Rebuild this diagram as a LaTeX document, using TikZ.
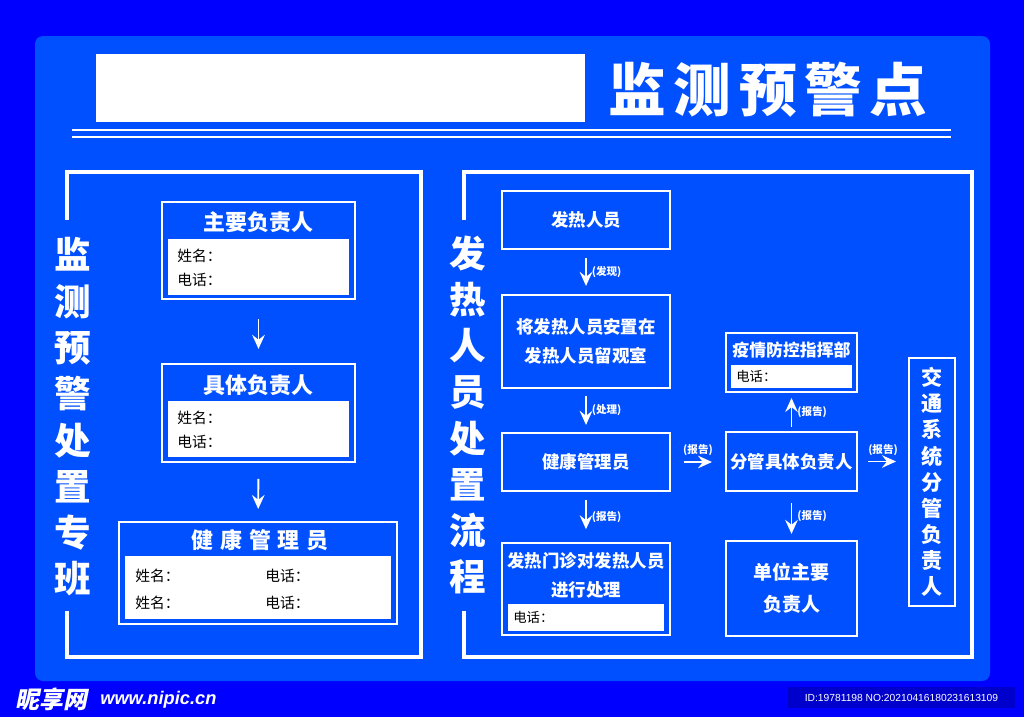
\documentclass[tikz,border=0pt]{standalone}
\usepackage{fontspec}
\setmainfont{Noto Sans CJK SC}
\newfontfamily\wmfont{Liberation Sans}
\usetikzlibrary{arrows.meta}
\definecolor{deepblue}{RGB}{0,0,255}
\definecolor{panelblue}{RGB}{0,80,255}
\definecolor{idblue}{RGB}{0,0,205}

\begin{document}
\begin{tikzpicture}[x=0.025cm, y=-0.025cm,
  >={Stealth[length=10pt, width=9pt, inset=3.5pt]},
  frame/.style={draw=white, line width=2.5pt},
  box/.style={draw=white, line width=1.5pt, inner sep=0pt},
  info/.style={fill=white, inner sep=0pt},
  arr/.style={->, white, line width=1.4pt},
  head/.style={text=white, font=\bfseries\fontsize{15.6pt}{18pt}\selectfont},
  flow/.style={text=white, align=center, font=\bfseries\fontsize{12.4pt}{20.5pt}\selectfont},
  field/.style={text=black, anchor=west, inner sep=0pt, font=\fontsize{10.5pt}{12pt}\selectfont},
  tag/.style={text=white, inner sep=1.5pt, font=\bfseries\fontsize{7.5pt}{8pt}\selectfont},
  vtitle/.style={text=white, align=center, font=\bfseries\fontsize{26pt}{32.9pt}\selectfont}]
  % ── Background and panel ──────────────────────────────────────
  \useasboundingbox (0,0) rectangle (1024,717);
  \fill[deepblue] (0,0) rectangle (1024,717);
  \fill[panelblue, rounded corners=0.2cm] (35,36) rectangle (990,681);
  % ── Header ────────────────────────────────────────────────────
  \fill[white] (96,54) rectangle (585,122);
  \node[text=white, font=\bfseries\fontsize{41pt}{44pt}\selectfont\addfontfeature{LetterSpace=13}]
    (title) at (768,90) {监测预警点};
  \draw[white, line width=1.5pt] (72,130) -- (951,130);
  \draw[white, line width=1.5pt] (72,137) -- (951,137);
  % ── Left frame: 监测预警处置专班 ───────────────────────────────
  \draw[frame] (67,220) -- (67,172) -- (421,172) -- (421,657) -- (67,657) -- (67,611);
  \node[vtitle] (leftTitle) at (73,417) {监\\测\\预\\警\\处\\置\\专\\班};
  % main leader
  \node[box, minimum width=4.825cm, minimum height=2.425cm] (mainBox) at (258.5,250.5) {};
  \node[info, minimum width=4.525cm, minimum height=1.4cm] (mainInfo) at (258.5,267) {};
  \node[head] (mainHead) at (258.5,222) {主要负责人};
  \node[field] (mainName) at (177,256) {姓名：};
  \node[field] (mainTel) at (177,280) {电话：};
  % specific leader
  \node[box, minimum width=4.825cm, minimum height=2.45cm] (specBox) at (258.5,413) {};
  \node[info, minimum width=4.525cm, minimum height=1.4cm] (specInfo) at (258.5,429) {};
  \node[head] (specHead) at (258.5,385) {具体负责人};
  \node[field] (specName) at (177,418) {姓名：};
  \node[field] (specTel) at (177,442) {电话：};
  % health manager
  \node[box, minimum width=6.95cm, minimum height=2.55cm] (hlthBox) at (258,573) {};
  \node[info, minimum width=6.65cm, minimum height=1.575cm] (hlthInfo) at (258,587.5) {};
  \node[head, font=\bfseries\fontsize{15.6pt}{18pt}\selectfont\addfontfeature{LetterSpace=30}]
    (hlthHead) at (260,540) {健康管理员};
  \foreach \y [count=\i] in {576,603} {
    \node[field] (hlthName\i) at (135,\y) {姓名：};
    \node[field] (hlthTel\i) at (265,\y) {电话：};
  }
  \draw[arr, shorten <=13.5pt, shorten >=10pt] (mainBox) -- (specBox);
  \draw[arr, shorten <=11.3pt, shorten >=8.5pt] (specBox) -- (hlthBox);
  % ── Right frame: 发热人员处置流程 ──────────────────────────────
  \draw[frame] (464,220) -- (464,172) -- (972,172) -- (972,657) -- (464,657) -- (464,611);
  \node[vtitle] (rightTitle) at (468,415) {发\\热\\人\\员\\处\\置\\流\\程};
  \node[box, minimum width=4.2cm, minimum height=1.45cm, flow] (fever) at (586,220) {发热人员};
  \node[box, minimum width=4.2cm, minimum height=2.325cm, flow] (settle) at (586,341.5)
    {将发热人员安置在\\发热人员留观室};
  \node[box, minimum width=4.2cm, minimum height=1.45cm, flow] (manager) at (586,462) {健康管理员};
  \node[box, minimum width=4.2cm, minimum height=2.3cm] (clinic) at (586,589) {};
  \node[flow] (clinicText) at (586,575) {发热门诊对发热人员\\进行处理};
  \node[info, minimum width=3.9cm, minimum height=0.675cm] (clinicInfo) at (586,617.5) {};
  \node[field, font=\fontsize{9.5pt}{11pt}\selectfont] (clinicTel) at (513,617.5) {电话：};
  \node[box, minimum width=3.275cm, minimum height=1.475cm, flow] (branch) at (791.5,461.5) {分管具体负责人};
  \node[box, minimum width=3.275cm, minimum height=1.475cm] (command) at (791.5,362.5) {};
  \node[flow, font=\bfseries\fontsize{12pt}{14pt}\selectfont] (commandHead) at (791.5,350) {疫情防控指挥部};
  \node[info, minimum width=3.025cm, minimum height=0.575cm] (commandInfo) at (791.5,376.5) {};
  \node[field, font=\fontsize{9.5pt}{11pt}\selectfont] (commandTel) at (736,376.5) {电话：};
  \node[box, minimum width=3.275cm, minimum height=2.375cm, flow,
    font=\bfseries\fontsize{13.5pt}{22.7pt}\selectfont] (unit) at (791.5,588.5) {单位主要\\负责人};
  \node[box, minimum width=1.15cm, minimum height=6.2cm, flow,
    font=\bfseries\fontsize{15pt}{18.6pt}\selectfont] (traffic) at (932,482)
    {交\\通\\系\\统\\分\\管\\负\\责\\人};
  % arrows
  \draw[arr, shorten <=5.7pt, shorten >=5.7pt] (fever) -- (settle)
    node[tag, midway, right=2pt] {(发现)};
  \draw[arr, shorten <=5pt, shorten >=5pt] (settle) -- (manager)
    node[tag, midway, right=2pt] {(处理)};
  \draw[arr, shorten <=5.7pt, shorten >=9pt] (manager) -- (clinic)
    node[tag, midway, right=2pt] {(报告)};
  \draw[arr, shorten <=9.2pt, shorten >=9.2pt] (manager.east) -- (manager.east -| branch.west)
    node[tag, midway, above=2pt] {(报告)};
  \draw[arr, shorten <=3pt, shorten >=3.5pt] (branch) -- (command)
    node[tag, midway, right=2pt] {(报告)};
  \draw[arr, shorten <=7.8pt, shorten >=4.3pt] (branch) -- (unit)
    node[tag, midway, right=2pt] {(报告)};
  \draw[arr, shorten <=7pt, shorten >=8.5pt] (branch.east) -- (branch.east -| traffic.west)
    node[tag, midway, above=2pt] {(报告)};
  % ── Watermark ─────────────────────────────────────────────────
  \node[anchor=west, text=white, inner sep=0pt,
    font=\bfseries\fontsize{17pt}{20pt}\selectfont\addfontfeature{FakeSlant=0.2}] (wmName) at (15,699) {昵享网};
  \node[anchor=west, text=white, inner sep=0pt,
    font=\wmfont\bfseries\itshape\fontsize{13pt}{15pt}\selectfont] (wmSite) at (100,700) {www.nipic.cn};
  \fill[idblue] (788,687) rectangle (1015,708);
  \node[text=white, inner sep=0pt, font=\wmfont\fontsize{7.3pt}{9pt}\selectfont] (wmId) at (901.5,697.5)
    {ID:19781198 NO:20210416180231613109};
\end{tikzpicture}
\end{document}
